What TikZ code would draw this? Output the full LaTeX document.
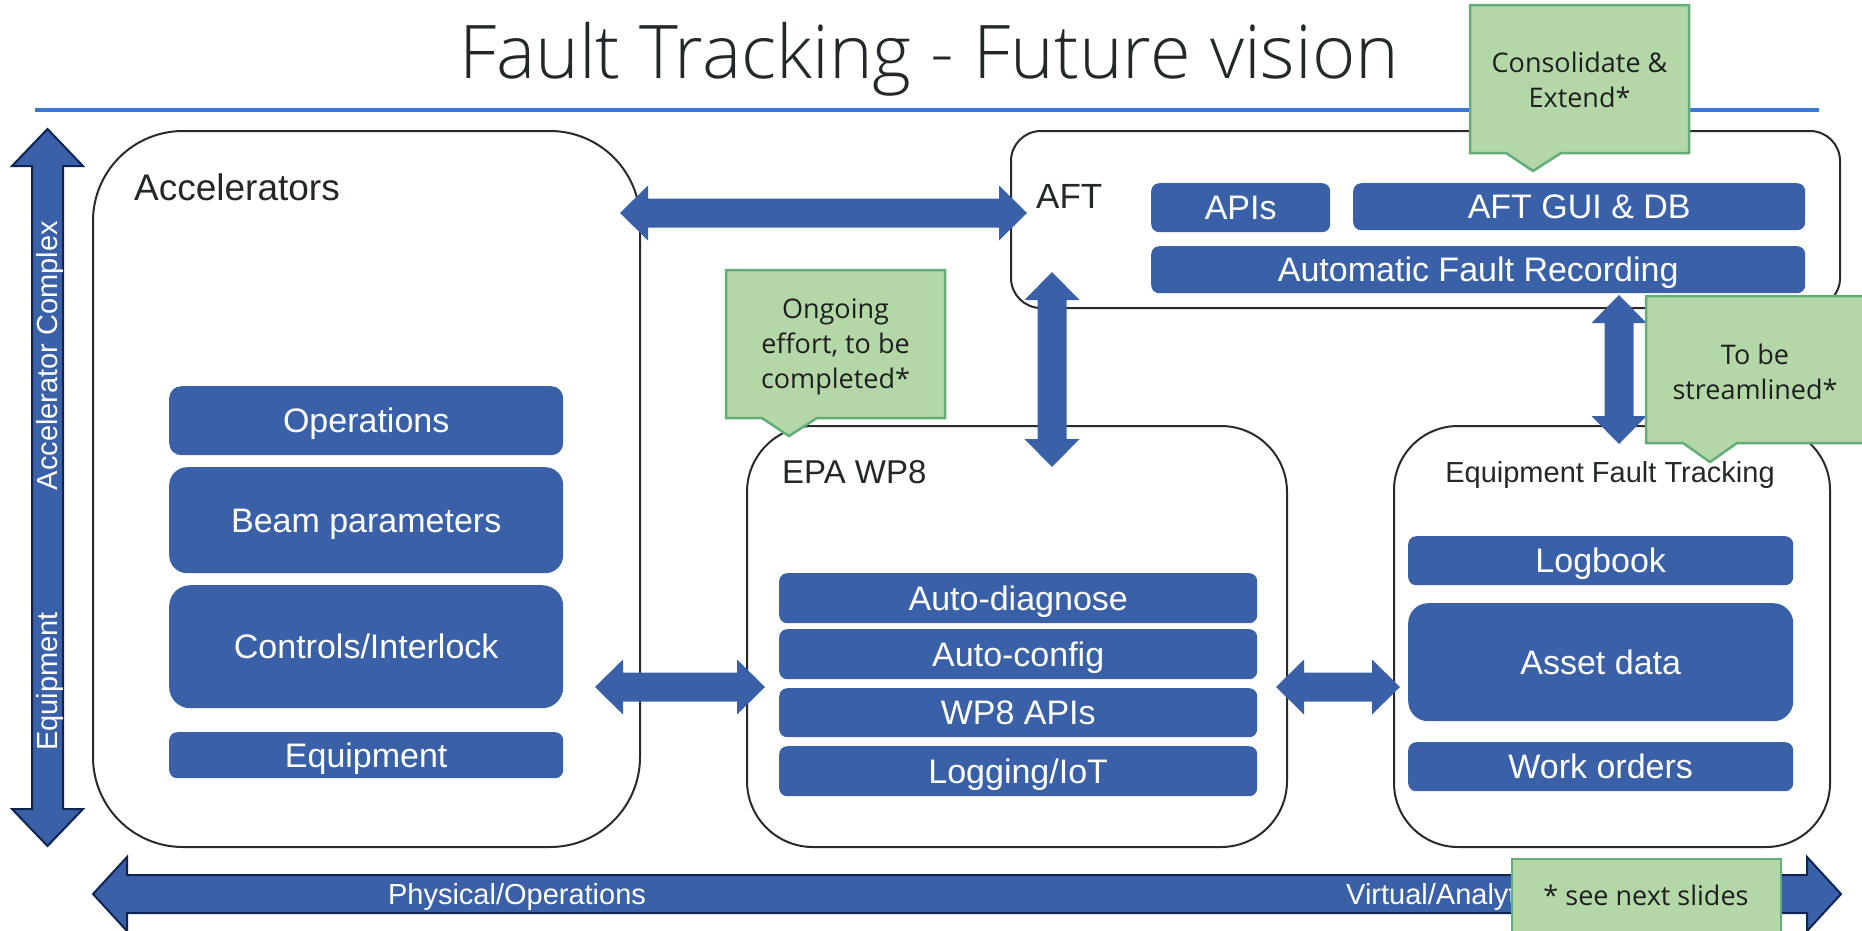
\documentclass[tikz,border=0pt]{standalone}
\usepackage{fontspec}
\setmainfont{Liberation Sans}
\newfontfamily\headfont{Open Sans}
\newfontfamily\titlefont{Open Sans}[UprightFont=* Light]
\usetikzlibrary{calc}

\definecolor{boxblue}{HTML}{3A61A8}
\definecolor{navy}{HTML}{0F2452}
\definecolor{notefill}{HTML}{B4D7A8}
\definecolor{noteline}{HTML}{62AD78}
\definecolor{inkgray}{HTML}{23282A}
\definecolor{rulecol}{HTML}{3C78D8}
\definecolor{panelline}{HTML}{2A2A2A}

\newcommand{\fs}[1]{\fontsize{#1}{#1}\selectfont}

% fat double-headed block arrow between two named points
% #1 style, #2 start, #3 end, #4 shaft half-width, #5 head half-width, #6 head length
\newcommand{\fatarrow}[6]{%
  \coordinate (fa-a) at ($(#2)!#6!(#3)$);
  \coordinate (fa-b) at ($(#3)!#6!(#2)$);
  \path[#1] (#2)
    -- ($(fa-a)!#5!90:(#3)$) -- ($(fa-a)!#4!90:(#3)$)
    -- ($(fa-b)!#4!-90:(#2)$) -- ($(fa-b)!#5!-90:(#2)$)
    -- (#3)
    -- ($(fa-b)!#5!90:(#2)$) -- ($(fa-b)!#4!90:(#2)$)
    -- ($(fa-a)!#4!-90:(#3)$) -- ($(fa-a)!#5!-90:(#3)$)
    -- cycle;
}

\tikzset{
  panel/.style={draw=panelline, line width=2, fill=white, rectangle,
    anchor=north west, inner sep=0},
  blk/.style={fill=boxblue, text=white, anchor=north west, inner sep=0,
    font=\fs{34}, text height=24.4, text depth=0},
  hdr/.style={text=inkgray, inner sep=0, anchor=base west},
  note/.style={fill=notefill, draw=noteline, line width=2.5},
  notetext/.style={align=center, font=\headfont\fontsize{27}{35}\selectfont,
    text=black!88, inner sep=0},
  fat/.style={fill=boxblue},
  fatrim/.style={fill=boxblue, draw=navy, line width=2, line join=miter},
  axislabel/.style={font=\fs{29}, text=white, inner sep=0,
    text height=20.8, text depth=0},
}

\begin{document}
\begin{tikzpicture}[x=1pt, y=-1pt]
\useasboundingbox (0,0) rectangle (1862,930);
\clip (0,0) rectangle (1862,930);

% heading
\node[font=\titlefont\fs{74}, text=inkgray, anchor=base, inner sep=0] (title)
  at (929,78) {Fault Tracking - Future vision};
\draw[rulecol, line width=3.5] (35,110) -- (1819,110);

% outer panels
\node[panel, rounded corners=90, minimum width=547, minimum height=716] (acc) at (92,130) {};
\node[panel, rounded corners=30, minimum width=829, minimum height=177] (aft) at (1010,130) {};
\node[panel, rounded corners=66, minimum width=540, minimum height=421] (epa) at (746,425) {};
\node[panel, rounded corners=64, minimum width=436, minimum height=421] (eft) at (1393,425) {};

% panel titles
\node[hdr, font=\fs{37}] (accT) at (134,200) {Accelerators};
\node[hdr, font=\fs{35}] (aftT) at (1036,208) {AFT};
\node[hdr, font=\fs{33}] (epaT) at (782,483) {EPA WP8};
\node[text=inkgray, inner sep=0, anchor=base, font=\fs{29}] (eftT) at (1610,482) {Equipment Fault Tracking};

% Accelerators content
\node[blk, rounded corners=12, minimum width=394, minimum height=69]  (ops)  at (169,386) {Operations};
\node[blk, rounded corners=18, minimum width=394, minimum height=106] (beam) at (169,467) {Beam parameters};
\node[blk, rounded corners=21, minimum width=394, minimum height=123] (ctrl) at (169,585) {Controls/Interlock};
\node[blk, rounded corners=8,  minimum width=394, minimum height=46]  (equ)  at (169,732) {Equipment};

% AFT content
\node[blk, rounded corners=8, minimum width=179, minimum height=49] (apis) at (1151,183) {APIs};
\node[blk, rounded corners=8, minimum width=452, minimum height=47] (gui)  at (1353,183) {AFT GUI \& DB};
\node[blk, rounded corners=8, minimum width=654, minimum height=47] (afr)  at (1151,246) {Automatic Fault Recording};

% EPA WP8 content
\node[blk, rounded corners=8, minimum width=478, minimum height=50] (diag) at (779,573) {Auto-diagnose};
\node[blk, rounded corners=8, minimum width=478, minimum height=50] (conf) at (779,629) {Auto-config};
\node[blk, rounded corners=8, minimum width=478, minimum height=49] (wapi) at (779,688) {WP8 APIs};
\node[blk, rounded corners=8, minimum width=478, minimum height=50] (logi) at (779,746) {Logging/IoT};

% Equipment Fault Tracking content
\node[blk, rounded corners=8,  minimum width=385, minimum height=49]  (logb)  at (1408,536) {Logbook};
\node[blk, rounded corners=20, minimum width=385, minimum height=118] (asset) at (1408,603) {Asset data};
\node[blk, rounded corners=8,  minimum width=385, minimum height=49]  (wo)    at (1408,742) {Work orders};

% end points of the links
\coordinate (l1a) at (620,213);   \coordinate (l1b) at (1027,213);
\coordinate (l2a) at (1052,272);  \coordinate (l2b) at (1052,467);
\coordinate (l3a) at (1619,295);  \coordinate (l3b) at (1619,444);
\coordinate (l4a) at (595,687);   \coordinate (l4b) at (765,687);
\coordinate (l5a) at (1276,687);  \coordinate (l5b) at (1400,687);
\coordinate (vta) at (47.5,129);  \coordinate (vtb) at (47.5,846);
\coordinate (hza) at (93,894);    \coordinate (hzb) at (1841,894);

% links between the panels
\fatarrow{fat}{l1a}{l1b}{14.5pt}{27.5pt}{28pt}
\fatarrow{fat}{l2a}{l2b}{14.5pt}{27.5pt}{28pt}
\fatarrow{fat}{l3a}{l3b}{14.5pt}{27.5pt}{28pt}
\fatarrow{fat}{l4a}{l4b}{14.5pt}{27.5pt}{28pt}
\fatarrow{fat}{l5a}{l5b}{14.5pt}{27.5pt}{28pt}

% axes
\fatarrow{fatrim}{vta}{vtb}{15.5pt}{35.5pt}{37pt}
\fatarrow{fatrim}{hza}{hzb}{19pt}{37pt}{34pt}
\node[axislabel, rotate=90] (axTop) at (47.5,355.5) {Accelerator Complex};
\node[axislabel, rotate=90] (axBot) at (47.5,681.5) {Equipment};
\node[axislabel] (axLeft) at (517,894) {Physical/Operations};
\node[axislabel, anchor=west] (axRight) at (1346,894) {Virtual/Analytics};

% notes
\path[note] (1470,5) -- (1689,5) -- (1689,153) -- (1561,153) -- (1533,171)
  -- (1506,153) -- (1470,153) -- cycle;
\node[notetext] (n1) at (1579.5,80) {Consolidate \&\\Extend*};

\path[note] (726,270) -- (945,270) -- (945,418) -- (817,418) -- (789,436)
  -- (762,418) -- (726,418) -- cycle;
\node[notetext] (n2) at (835.5,346.5) {Ongoing\\effort, to be\\completed*};

\path[note] (1646,296) -- (1875,296) -- (1875,443) -- (1737,443) -- (1710,462)
  -- (1683,443) -- (1646,443) -- cycle;
\node[notetext] (n3) at (1755,372) {To be\\streamlined*};

\path[note] (1512,859) rectangle (1781,945);
\node[notetext, text height=19.3, text depth=0] (n4) at (1646,896) {* see next slides};
\end{tikzpicture}
\end{document}
